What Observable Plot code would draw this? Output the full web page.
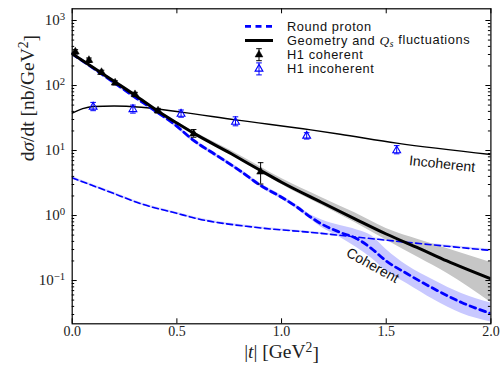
<!DOCTYPE html>
<html>
<head>
<meta charset="utf-8">
<script src="https://cdn.jsdelivr.net/npm/d3@7"></script>
<script src="https://cdn.jsdelivr.net/npm/@observablehq/plot@0.6"></script>
<style>
  html, body { margin: 0; padding: 0; background: #fff; }
  #wrap { position: relative; width: 504px; height: 370px; }
  #legend { position: absolute; left: 0; top: 0; pointer-events: none; }
</style>
</head>
<body>
<div id="wrap"></div>
<script>
// ---- H1 measurements ----
const cohT  = [0.015, 0.08, 0.14, 0.205, 0.30, 0.41, 0.58, 0.90];
const cohV  = [330, 245, 160, 110, 73, 41, 18.1, 4.7];
const cohLo = [305, 226, 148, 102, 67.5, 37.8, 16.0, 3.05];
const cohHi = [356, 265, 172, 118, 78.5, 44.5, 21.0, 6.5];

const incT  = [0.10, 0.29, 0.52, 0.78, 1.12, 1.55];
const incV  = [47.0, 43.0, 36.5, 27.5, 16.8, 10.0];
const incLo = [41.0, 37.6, 32.5, 24.0, 15.0, 8.9];
const incHi = [55.0, 50.0, 42.0, 33.0, 18.8, 11.9];

// ---- Geometry and Qs fluctuations ----
const fcT  = [0, 0.1, 0.2, 0.3, 0.41, 0.5, 0.58, 0.76, 0.9, 1.0, 1.19, 1.35, 1.5, 1.66, 1.79, 2.0];
const fcV  = [307, 190, 116, 71, 40.3, 26.5, 18.5, 8.9, 4.92, 3.25, 1.6, 0.89, 0.52, 0.31, 0.20, 0.106];
const fcLo = [295, 183, 112, 68.5, 38.8, 25.4, 17.8, 8.5, 4.65, 3.0, 1.45, 0.78, 0.42, 0.22, 0.13, 0.046];
const fcHi = [318, 197, 120, 73.5, 42.0, 27.8, 19.6, 9.9, 5.6, 3.7, 1.9, 1.1, 0.63, 0.42, 0.31, 0.19];

const fiT = [0, 0.05, 0.1, 0.2, 0.33, 0.52, 0.78, 1.14, 1.28, 1.55, 2.0];
const fiV = [37.5, 44, 47.5, 48.5, 46.4, 39, 29.6, 20.8, 17.8, 13.0, 8.7];

// ---- Round proton ----
const rcT  = [0, 0.1, 0.2, 0.3, 0.39, 0.49, 0.58, 0.69, 0.8, 0.9, 1.0, 1.075, 1.14, 1.19, 1.28, 1.36, 1.43, 1.5, 1.6, 1.73, 1.86, 2.0];
const rcV  = [307, 185, 111, 66, 42, 25, 14.3, 8.4, 4.92, 2.9, 1.91, 1.34, 0.94, 0.745, 0.55, 0.44, 0.31, 0.20, 0.127, 0.074, 0.046, 0.031];
const rcLo = [290, 174, 104, 62, 39.5, 23.5, 13.3, 7.8, 4.6, 2.7, 1.78, 1.25, 0.87, 0.66, 0.46, 0.32, 0.22, 0.14, 0.089, 0.05, 0.031, 0.023];
const rcHi = [322, 195, 117, 70, 44.5, 26.5, 15.2, 8.9, 5.25, 3.1, 2.04, 1.44, 1.02, 0.86, 0.70, 0.60, 0.49, 0.30, 0.17, 0.10, 0.063, 0.045];

const riT  = [0, 0.18, 0.33, 0.5, 0.6, 0.87, 1.14, 1.59, 2.0];
const riV  = [3.8, 2.3, 1.51, 1.08, 0.89, 0.66, 0.55, 0.39, 0.29];
const riLo = [3.6, 2.2, 1.45, 1.04, 0.855, 0.635, 0.53, 0.375, 0.278];
const riHi = [4.0, 2.4, 1.57, 1.12, 0.925, 0.685, 0.57, 0.405, 0.302];

// ---- axes ----
const xTicks = [0, 0.5, 1.0, 1.5, 2.0];
const xTickLabels = ["0.0", "0.5", "1.0", "1.5", "2.0"];
const yTicks = [0.1, 1, 10, 100, 1000];
const yTickExp = ["\u22121", "0", "1", "2", "3"];
const yDomain = [0.0216, 1514];

// ---- legend entries ----
const legendLabels = ["Round proton", "Geometry and ", "H1 coherent", "H1 incoherent"];
const legendKinds = ["dash", "solid", "coh", "inc"];

const rows = (t, v, lo, hi) => t.map((d, i) => ({t: d, v: v[i], lo: lo ? lo[i] : null, hi: hi ? hi[i] : null}));
const coh = rows(cohT, cohV, cohLo, cohHi);
const inc = rows(incT, incV, incLo, incHi);
const fc = rows(fcT, fcV, fcLo, fcHi);
const fi = rows(fiT, fiV);
const rc = rows(rcT, rcV, rcLo, rcHi);
const ri = rows(riT, riV, riLo, riHi);

const W = 504, H = 370;
const M = {left: 71.7, right: 13.6, top: 8.3, bottom: 46.7};
const innerW = W - M.left - M.right, innerH = H - M.top - M.bottom;
const MAJ = 5, MIN = 2.5;

// minor ticks on the log axis
const yMinor = [];
for (let e = -2; e <= 3; e++) for (let k = 2; k <= 9; k++) {
  const v = k * 10 ** e;
  if (v > yDomain[0] && v < yDomain[1]) yMinor.push(v);
}

// horizontal cap for error bars, fixed pixel width
const cap = { draw(ctx, size) { const w = Math.sqrt(size / Math.PI); ctx.moveTo(-w, 0); ctx.lineTo(w, 0); } };

const BLUE = "#0000ff";
const SANS = "'Liberation Sans', Arial, Helvetica, sans-serif";
const SERIF = "'Liberation Serif', 'Times New Roman', serif";
const Y_LABEL = "d\u03c3/dt [nb/GeV2]";
const X_LABEL = "|t| [GeV2]";

const svg = Plot.plot({
  width: W, height: H,
  marginLeft: M.left, marginRight: M.right, marginTop: M.top, marginBottom: M.bottom,
  x: {domain: [0, 2], axis: null},
  y: {type: "log", domain: yDomain, axis: null},
  style: {background: "white", fontFamily: SERIF, color: "black"},
  marks: [
    // uncertainty bands
    Plot.areaY(rc, {x: "t", y1: "lo", y2: "hi", fill: "#c8c8ff", curve: "monotone-x", clip: true}),
    Plot.areaY(ri, {x: "t", y1: "lo", y2: "hi", fill: "#d4d4ff", curve: "monotone-x", clip: true}),
    Plot.areaY(fc, {x: "t", y1: "lo", y2: "hi", fill: "#c6c6c6", curve: "monotone-x", clip: true}),
    // model curves
    Plot.line(ri, {x: "t", y: "v", stroke: BLUE, strokeWidth: 1.6, strokeDasharray: "6,3.5", curve: "monotone-x", clip: true}),
    Plot.line(fi, {x: "t", y: "v", stroke: "black", strokeWidth: 1.4, curve: "monotone-x", clip: true}),
    Plot.line(rc, {x: "t", y: "v", stroke: BLUE, strokeWidth: 2.8, strokeDasharray: "6,4.5", curve: "monotone-x", clip: true}),
    Plot.line(fc, {x: "t", y: "v", stroke: "black", strokeWidth: 3, curve: "monotone-x", clip: true}),
    // H1 incoherent
    Plot.ruleX(inc, {x: "t", y1: "lo", y2: "hi", stroke: BLUE, strokeWidth: 1}),
    Plot.dot(inc, {x: "t", y: "lo", r: 2.8, symbol: cap, stroke: BLUE, strokeWidth: 1}),
    Plot.dot(inc, {x: "t", y: "hi", r: 2.8, symbol: cap, stroke: BLUE, strokeWidth: 1}),
    Plot.dot(inc, {x: "t", y: "v", r: 2.9, symbol: "triangle", stroke: BLUE, fill: "none", strokeWidth: 1.1}),
    // H1 coherent
    Plot.ruleX(coh, {x: "t", y1: "lo", y2: "hi", stroke: "black", strokeWidth: 1}),
    Plot.dot(coh, {x: "t", y: "lo", r: 2.8, symbol: cap, stroke: "black", strokeWidth: 1}),
    Plot.dot(coh, {x: "t", y: "hi", r: 2.8, symbol: cap, stroke: "black", strokeWidth: 1}),
    Plot.dot(coh, {x: "t", y: "v", r: 2.9, symbol: "triangle", fill: "black", stroke: "black", strokeWidth: 0.5}),
    // curve labels
    Plot.text(["Incoherent"], {x: 1.767, y: 6.2, text: d => d, rotate: 6, fontSize: 14, fontFamily: SANS, fill: "#111"}),
    Plot.text(["Coherent"], {x: 1.435, y: 0.17, text: d => d, rotate: 29, fontSize: 14, fontFamily: SANS, fill: "#111"}),
    // ticks, inward on all four sides
    Plot.tickX(xTicks, {x: d => d, insetTop: innerH - MAJ, stroke: "black"}),
    Plot.tickX(xTicks, {x: d => d, insetBottom: innerH - MAJ, stroke: "black"}),
    Plot.tickY(yTicks, {y: d => d, insetRight: innerW - MAJ, stroke: "black"}),
    Plot.tickY(yTicks, {y: d => d, insetLeft: innerW - MAJ, stroke: "black"}),
    Plot.tickY(yMinor, {y: d => d, insetRight: innerW - MIN, stroke: "black"}),
    Plot.tickY(yMinor, {y: d => d, insetLeft: innerW - MIN, stroke: "black"}),
    Plot.frame({stroke: "black", strokeWidth: 1.2}),
    // tick labels
    Plot.text(xTicks, {x: d => d, frameAnchor: "bottom", dy: 12, text: (d, i) => xTickLabels[i], fontSize: 14, fill: "#222"}),
    Plot.text(yTicks, {y: d => d, frameAnchor: "left", dx: -7, textAnchor: "end", text: (d, i) => "10^" + yTickExp[i], fontSize: 15, fill: "#222"}),
    // axis titles
    Plot.text([Y_LABEL], {frameAnchor: "left", dx: -44, dy: -5, rotate: -90, text: d => d, fontSize: 19.5, fill: "#222"}),
    Plot.text([X_LABEL], {frameAnchor: "bottom", dy: 34, text: d => d, fontSize: 19.5, fill: "#222"})
  ]
});

// superscripts and italics in the labels
const sup = s => `<tspan dy="-0.45em" font-size="0.7em">${s}</tspan>`;
svg.querySelectorAll("text").forEach(el => {
  const s = el.textContent;
  if (s.startsWith("10^")) {
    el.innerHTML = `10<tspan dy="-0.45em" font-size="0.72em">${s.slice(3)}</tspan>`;
  } else if (s === Y_LABEL) {
    el.innerHTML = `d<tspan font-style="italic">\u03c3</tspan>/dt [nb/GeV${sup("2")}<tspan dy="0.45em">]</tspan>`;
  } else if (s === X_LABEL) {
    el.innerHTML = `|<tspan font-style="italic">t</tspan>| [GeV${sup("2")}<tspan dy="0.45em">]</tspan>`;
  }
});

const wrap = document.getElementById("wrap");
wrap.appendChild(svg);

// legend, top right inside the frame
const leg = d3.select(wrap).append("svg").attr("id", "legend").attr("width", W).attr("height", H);
const lx0 = 245, lx1 = 273, tx = 287, ly0 = 26.3, lstep = 14.2;
const tri = d3.symbol(d3.symbolTriangle, 2.9 * 2.9 * Math.PI)();
legendLabels.forEach((label, i) => {
  const kind = legendKinds[i], y = ly0 + i * lstep;
  if (kind === "dash") leg.append("line").attr("x1", lx0).attr("x2", lx1).attr("y1", y).attr("y2", y)
    .attr("stroke", BLUE).attr("stroke-width", 2.8).attr("stroke-dasharray", "6,4.5");
  if (kind === "solid") leg.append("line").attr("x1", lx0).attr("x2", lx1).attr("y1", y).attr("y2", y)
    .attr("stroke", "black").attr("stroke-width", 3);
  if (kind === "coh" || kind === "inc") {
    const c = kind === "coh" ? "black" : BLUE;
    const cx = (lx0 + lx1) / 2;
    leg.append("path").attr("d", `M${cx},${y - 6}V${y + 6}M${cx - 2.8},${y - 6}H${cx + 2.8}M${cx - 2.8},${y + 6}H${cx + 2.8}`)
      .attr("stroke", c).attr("stroke-width", 1).attr("fill", "none");
    leg.append("path").attr("d", tri).attr("transform", `translate(${cx},${y})`)
      .attr("fill", kind === "coh" ? "black" : "none").attr("stroke", c).attr("stroke-width", kind === "coh" ? 0.5 : 1.1);
  }
  const t = leg.append("text").attr("x", tx).attr("y", y).attr("dy", "0.35em")
    .attr("font-family", SANS).attr("font-size", 12.8).attr("letter-spacing", 0.6).attr("fill", "#111").text(label);
  if (kind === "solid") {
    t.append("tspan").attr("font-family", SERIF).attr("font-style", "italic").attr("font-size", 13.5).text("Q");
    t.append("tspan").attr("font-family", SERIF).attr("font-style", "italic").attr("font-size", 9.5).attr("dy", "0.2em").text("s");
    t.append("tspan").attr("dy", "-0.2em").text(" fluctuations");
  }
});
</script>
</body>
</html>
